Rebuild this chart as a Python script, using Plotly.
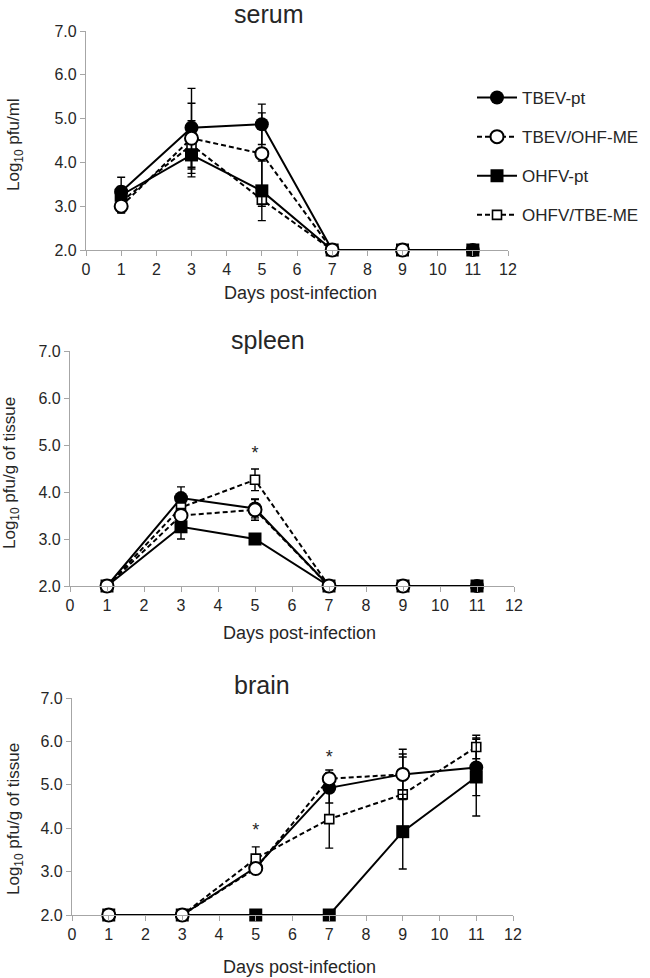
import plotly.graph_objects as go

days = [1, 3, 5, 7, 9, 11]
series_names = ["TBEV-pt", "TBEV/OHF-ME", "OHFV-pt", "OHFV/TBE-ME"]

# serum (log10 pfu/ml)
serum_tbev_pt = [3.33, 4.79, 4.87, 2.0, 2.0, 2.0]
serum_tbev_pt_err = [0.33, 0.90, 0.46, None, None, None]
serum_tbev_me = [3.00, 4.55, 4.20, 2.0, 2.0, None]
serum_tbev_me_err = [0.15, 0.80, 0.93, None, None, None]
serum_ohfv_pt = [3.25, 4.17, 3.35, 2.0, 2.0, 2.0]
serum_ohfv_pt_err = [0.20, 0.50, 0.68, None, None, None]
serum_ohfv_me = [3.10, 4.40, 3.15, 2.0, 2.0, 2.0]
serum_ohfv_me_err = [0.25, 0.55, 0.15, None, None, None]

# spleen (log10 pfu/g of tissue)
spleen_tbev_pt = [2.0, 3.87, 3.65, 2.0, 2.0, 2.0]
spleen_tbev_pt_err = [None, 0.24, 0.20, None, None, None]
spleen_tbev_me = [2.0, 3.50, 3.62, 2.0, 2.0, None]
spleen_tbev_me_err = [None, 0.15, 0.22, None, None, None]
spleen_ohfv_pt = [2.0, 3.26, 3.00, 2.0, 2.0, 2.0]
spleen_ohfv_pt_err = [None, 0.26, None, None, None, None]
spleen_ohfv_me = [2.0, 3.67, 4.26, 2.0, 2.0, 2.0]
spleen_ohfv_me_err = [None, 0.15, 0.23, None, None, None]

# brain (log10 pfu/g of tissue)
brain_tbev_pt = [2.0, 2.0, 3.10, 4.93, 5.24, 5.40]
brain_tbev_pt_err = [None, None, 0.10, 0.35, 0.47, 0.65]
brain_tbev_me = [2.0, 2.0, 3.07, 5.14, 5.24, None]
brain_tbev_me_err = [None, None, 0.10, 0.20, 0.58, None]
brain_ohfv_pt = [2.0, 2.0, 2.0, 2.0, 3.92, 5.18]
brain_ohfv_pt_err = [None, None, None, None, 0.86, 0.90]
brain_ohfv_me = [2.0, 2.0, 3.30, 4.21, 4.78, 5.87]
brain_ohfv_me_err = [None, None, 0.27, 0.67, 0.86, 0.27]

# significance asterisks
spleen_star_days = [5]
spleen_star_vals = [4.79]
brain_star_days = [5, 7]
brain_star_vals = [3.92, 5.60]

panel_titles = ["serum", "spleen", "brain"]
y_titles = ["Log<sub>10</sub> pfu/ml", "Log<sub>10</sub> pfu/g of tissue", "Log<sub>10</sub> pfu/g of tissue"]
x_title = "Days post-infection"
x_ticks = list(range(0, 13))
y_ticks = [2.0, 3.0, 4.0, 5.0, 6.0, 7.0]

W, H = 650, 978
FONT = "Liberation Sans, Arial, sans-serif"
TXT = "#262626"


def px(x):
    return x / W


def py(y):
    return 1 - y / H


# pixel geometry of each panel: (x0, x1, ytop, ybottom)
panels_px = [(86, 508, 31, 250), (70, 514, 351, 586), (72, 513, 698, 915)]

styles = {
    "TBEV-pt": dict(symbol="circle", size=14, fill="black", lw=0, dash="solid", rank=1),
    "TBEV/OHF-ME": dict(symbol="circle", size=13, fill="white", lw=2, dash="5px,3px", rank=2),
    "OHFV-pt": dict(symbol="square", size=13, fill="black", lw=0, dash="solid", rank=3),
    "OHFV/TBE-ME": dict(symbol="square", size=9, fill="white", lw=1.6, dash="5px,3px", rank=4),
}

panel_data = [
    {"TBEV-pt": (serum_tbev_pt, serum_tbev_pt_err), "TBEV/OHF-ME": (serum_tbev_me, serum_tbev_me_err),
     "OHFV-pt": (serum_ohfv_pt, serum_ohfv_pt_err), "OHFV/TBE-ME": (serum_ohfv_me, serum_ohfv_me_err)},
    {"TBEV-pt": (spleen_tbev_pt, spleen_tbev_pt_err), "TBEV/OHF-ME": (spleen_tbev_me, spleen_tbev_me_err),
     "OHFV-pt": (spleen_ohfv_pt, spleen_ohfv_pt_err), "OHFV/TBE-ME": (spleen_ohfv_me, spleen_ohfv_me_err)},
    {"TBEV-pt": (brain_tbev_pt, brain_tbev_pt_err), "TBEV/OHF-ME": (brain_tbev_me, brain_tbev_me_err),
     "OHFV-pt": (brain_ohfv_pt, brain_ohfv_pt_err), "OHFV/TBE-ME": (brain_ohfv_me, brain_ohfv_me_err)},
]
draw_order = ["TBEV-pt", "OHFV/TBE-ME", "OHFV-pt", "TBEV/OHF-ME"]

fig = go.Figure()
layout = dict(
    width=W, height=H, margin=dict(l=0, r=0, t=0, b=0, autoexpand=False),
    paper_bgcolor="white", plot_bgcolor="white",
    font=dict(family=FONT, color=TXT),
    showlegend=True,
    legend=dict(x=px(472), y=py(80), xanchor="left", yanchor="top",
                font=dict(size=17, family=FONT, color=TXT),
                tracegroupgap=14, bgcolor="rgba(0,0,0,0)", itemwidth=40),
)
annotations = []

for i, (x0, x1, yt, yb) in enumerate(panels_px):
    n = "" if i == 0 else str(i + 1)
    xa, ya = "xaxis" + n, "yaxis" + n
    layout[xa] = dict(domain=[px(x0), px(x1)], range=[0, 12], anchor="y" + n, automargin=False,
                      tickvals=x_ticks, ticktext=[str(t) for t in x_ticks],
                      showline=True, linecolor="#a6a6a6", linewidth=1.3,
                      ticks="outside", ticklen=5, tickcolor="#a6a6a6", tickwidth=1,
                      showgrid=False, zeroline=False,
                      tickfont=dict(size=16, family=FONT, color=TXT))
    layout[ya] = dict(domain=[py(yb), py(yt)], range=[2, 7], anchor="x" + n, automargin=False,
                      tickvals=y_ticks, ticktext=[f"{v:.1f}" for v in y_ticks],
                      showline=True, linecolor="#a6a6a6", linewidth=1.3,
                      ticks="outside", ticklen=5, tickcolor="#a6a6a6", tickwidth=1,
                      showgrid=False, zeroline=False,
                      tickfont=dict(size=16, family=FONT, color=TXT))
    for name in draw_order:
        st = styles[name]
        vals, errs = panel_data[i][name]
        fig.add_trace(go.Scatter(
            x=days, y=vals, name=name, mode="lines+markers",
            xaxis="x" + n, yaxis="y" + n,
            legendgroup=name, showlegend=(i == 0), legendrank=st["rank"],
            line=dict(color="black", width=2, dash=st["dash"]),
            marker=dict(symbol=st["symbol"], size=st["size"], color=st["fill"],
                        line=dict(color="black", width=st["lw"])),
            error_y=dict(type="data", array=errs, visible=True, color="black",
                         thickness=1.4, width=4),
            cliponaxis=False, connectgaps=False,
        ))

# asterisks
fig.add_trace(go.Scatter(x=spleen_star_days, y=spleen_star_vals, mode="text", text=["*"] * len(spleen_star_days),
                         textfont=dict(size=18, family=FONT, color=TXT), xaxis="x2", yaxis="y2",
                         showlegend=False, cliponaxis=False))
fig.add_trace(go.Scatter(x=brain_star_days, y=brain_star_vals, mode="text", text=["*"] * len(brain_star_days),
                         textfont=dict(size=18, family=FONT, color=TXT), xaxis="x3", yaxis="y3",
                         showlegend=False, cliponaxis=False))

# titles and axis titles (pixel positions)
title_pos = [(268, 14), (268, 340), (262, 685)]
ytitle_pos = [(15, 145), (11, 473), (15, 819)]
xtitle_pos = [(300, 293), (299, 633), (299, 967)]
for i in range(3):
    tx, ty = title_pos[i]
    annotations.append(dict(text=panel_titles[i], x=px(tx), y=py(ty), xref="paper", yref="paper",
                            xanchor="center", yanchor="middle", showarrow=False,
                            font=dict(size=25, family=FONT, color=TXT)))
    yx, yy = ytitle_pos[i]
    annotations.append(dict(text=y_titles[i], x=px(yx), y=py(yy), xref="paper", yref="paper",
                            xanchor="center", yanchor="middle", showarrow=False, textangle=-90,
                            font=dict(size=17, family=FONT, color=TXT)))
    xx, xy = xtitle_pos[i]
    annotations.append(dict(text=x_title, x=px(xx), y=py(xy), xref="paper", yref="paper",
                            xanchor="center", yanchor="middle", showarrow=False,
                            font=dict(size=18, family=FONT, color=TXT)))

layout["annotations"] = annotations
fig.update_layout(**layout)
# remove the default 8px page margin so the figure fills the window exactly
fig.write_html("out.html", config={"displayModeBar": False},
               post_script="document.body.style.margin='0px';document.body.style.overflow='hidden';")
